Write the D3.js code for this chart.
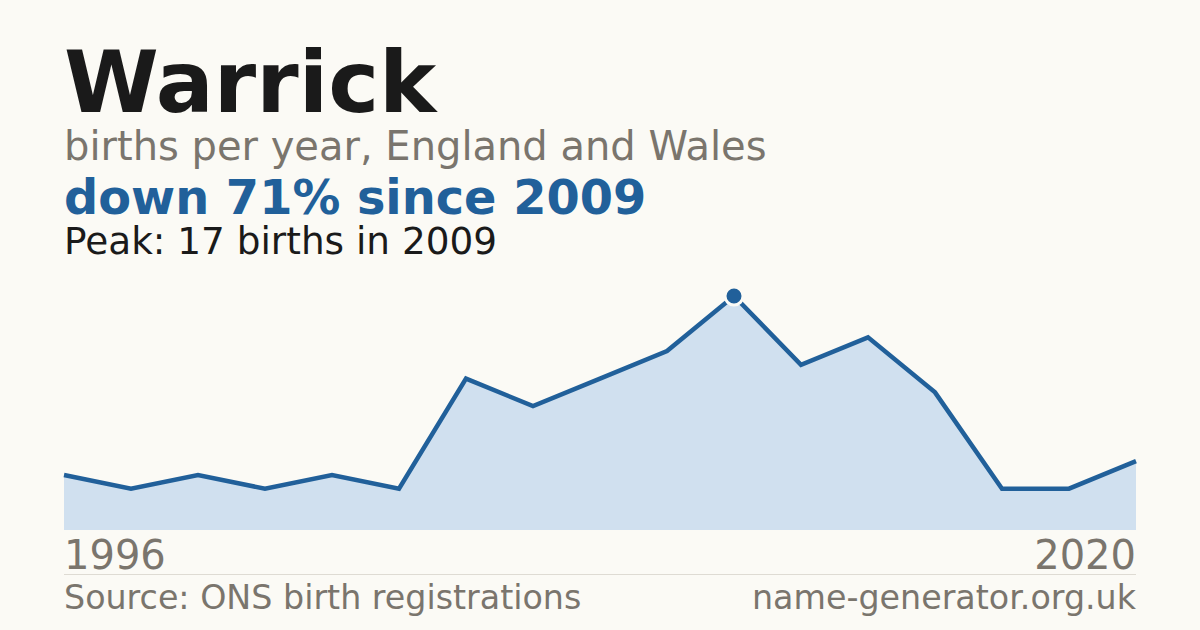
<!DOCTYPE html>
<html>
<head>
<meta charset="utf-8">
<script src="https://cdn.jsdelivr.net/npm/d3@7"></script>
<style>
  html, body { margin: 0; padding: 0; background: #fbfaf5; }
  svg { display: block; font-family: "DejaVu Sans", sans-serif; }
</style>
</head>
<body>
<svg id="chart" width="1200" height="630"></svg>
<script>
// births per year, one entry per registered year (evenly spaced)
var years = [1996, 1997, 1998, 1999, 2000, 2001, 2002, 2003, 2004, 2005, 2009, 2010, 2011, 2012, 2013, 2019, 2020];
var births = [4, 3, 4, 3, 4, 3, 11, 9, 11, 13, 17, 12, 14, 10, 3, 3, 5];
var axisLabels = ["1996", "2020"];

var peakIndex = 10;

function drawChart(){
    var svg = d3.select("#chart");
    var left = 64, right = 1136, top = 296, bottom = 530;

    svg.append("rect")
        .attr("width", 1200)
        .attr("height", 630)
        .attr("fill", "#fbfaf5");

    // header texts
    svg.append("text")
        .attr("x", left).attr("y", 112)
        .attr("font-size", 86).attr("font-weight", "bold")
        .attr("fill", "#1a1a1a")
        .text("Warrick");
    svg.append("text")
        .attr("x", left).attr("y", 160)
        .attr("font-size", 40)
        .attr("fill", "#7a756d")
        .text("births per year, England and Wales");
    svg.append("text")
        .attr("x", left).attr("y", 214)
        .attr("font-size", 47.8).attr("font-weight", "bold")
        .attr("fill", "#21609a")
        .text("down 71% since 2009");
    svg.append("text")
        .attr("x", left).attr("y", 254)
        .attr("font-size", 37.4)
        .attr("fill", "#1a1a1a")
        .text("Peak: 17 births in 2009");

    var x = d3.scalePoint()
        .domain(d3.range(births.length))
        .range([left, right]);

    var y = d3.scaleLinear()
        .domain([0, d3.max(births)])
        .range([bottom, top]);

    var area = d3.area()
        .x(function(d, i){ return x(i); })
        .y0(bottom)
        .y1(function(d){ return y(d); });

    var line = d3.line()
        .x(function(d, i){ return x(i); })
        .y(function(d){ return y(d); });

    svg.append("path")
        .datum(births)
        .attr("d", area)
        .attr("fill", "#d0e0ef");

    svg.append("path")
        .datum(births)
        .attr("d", line)
        .attr("fill", "none")
        .attr("stroke", "#21609a")
        .attr("stroke-width", 4.5)
        .attr("stroke-linejoin", "miter");

    // peak marker
    svg.append("circle")
        .attr("cx", x(peakIndex))
        .attr("cy", y(births[peakIndex]))
        .attr("r", 9)
        .attr("fill", "#21609a")
        .attr("stroke", "#fbfaf5")
        .attr("stroke-width", 3);

    // first / last year labels
    svg.append("text")
        .attr("x", left).attr("y", 569)
        .attr("font-size", 40)
        .attr("fill", "#7a756d")
        .text(axisLabels[0]);
    svg.append("text")
        .attr("x", right).attr("y", 569)
        .attr("font-size", 40)
        .attr("text-anchor", "end")
        .attr("fill", "#7a756d")
        .text(axisLabels[1]);

    svg.append("line")
        .attr("x1", left).attr("x2", right)
        .attr("y1", 574.5).attr("y2", 574.5)
        .attr("stroke", "#dedbd3")
        .attr("stroke-width", 1);

    // footer
    svg.append("text")
        .attr("x", left).attr("y", 609)
        .attr("font-size", 33.3)
        .attr("fill", "#7a756d")
        .text("Source: ONS birth registrations");
    svg.append("text")
        .attr("x", right).attr("y", 609)
        .attr("font-size", 33.3)
        .attr("text-anchor", "end")
        .attr("fill", "#7a756d")
        .text("name-generator.org.uk");
};

drawChart();
</script>
</body>
</html>
